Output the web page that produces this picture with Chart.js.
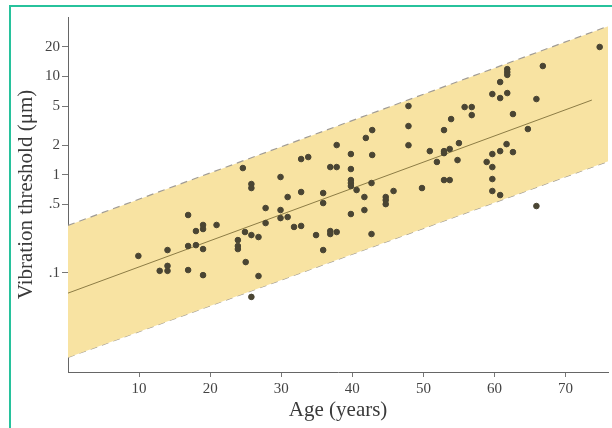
<!DOCTYPE html>
<html>
<head>
<meta charset="utf-8">
<script src="https://cdn.jsdelivr.net/npm/chart.js@4.4.1/dist/chart.umd.min.js"></script>
<style>
  html, body { margin: 0; padding: 0; background: #fff; }
  #wrap { position: relative; width: 612px; height: 428px; overflow: hidden; }
  #frame { position: absolute; left: 9px; top: 5px; width: 620px; height: 440px;
           border: 2px solid #27c29c; pointer-events: none; }
</style>
</head>
<body>
<div id="wrap">
  <canvas id="vibChart" width="612" height="428"></canvas>
  <div id="frame"></div>
</div>
<script>
// measured subjects: age (years) and vibration threshold (µm)
const ages = [
  9.9, 12.9, 14.0, 14.0, 14.0, 16.9, 16.9, 16.9, 18.0, 18.0,
  19.0, 19.0, 19.0, 19.0, 20.9, 23.9, 23.9, 23.9, 24.6, 24.9,
  25.0, 25.8, 25.8, 25.8, 25.8, 26.8, 26.8, 27.8, 27.8, 29.9,
  29.9, 29.9, 30.9, 30.9, 31.8, 32.8, 32.8, 32.8, 33.8, 34.9,
  35.9, 35.9, 35.9, 36.9, 37.8, 36.9, 36.9, 37.8, 37.8, 39.8,
  39.8, 39.8, 39.8, 39.8, 40.6, 39.8, 41.9, 41.7, 41.7, 42.8,
  42.8, 42.7, 42.7, 44.7, 44.7, 44.7, 45.8, 47.9, 47.9, 47.9,
  49.8, 50.9, 51.9, 52.9, 52.9, 52.9, 53.7, 53.9, 55.0, 54.8,
  52.9, 53.7, 55.8, 56.8, 56.8, 58.9, 59.7, 59.7, 59.7, 59.7,
  59.7, 60.8, 60.8, 60.8, 60.8, 61.8, 61.8, 61.8, 61.8, 61.7,
  62.6, 62.6, 64.7, 65.9, 65.9, 66.8, 74.8
];
const thresholds = [
  0.149, 0.105, 0.171, 0.118, 0.105, 0.389, 0.188, 0.107, 0.267, 0.192,
  0.308, 0.280, 0.175, 0.095, 0.308, 0.216, 0.188, 0.175, 1.17, 0.261,
  0.129, 0.804, 0.732, 0.243, 0.057, 0.232, 0.093, 0.458, 0.322, 0.948,
  0.437, 0.362, 0.593, 0.371, 0.294, 0.667, 0.301, 1.445, 1.514, 0.243,
  0.651, 0.515, 0.171, 1.197, 1.197, 0.267, 0.249, 0.261, 2.006, 1.625,
  1.143, 0.883, 0.823, 0.767, 0.699, 0.398, 2.37, 0.593, 0.437, 2.85,
  1.59, 0.823, 0.249, 0.593, 0.552, 0.502, 0.683, 5.01, 3.13, 2.00,
  0.732, 1.74, 1.35, 2.85, 1.74, 1.66, 1.83, 3.69, 2.10, 1.41,
  0.883, 0.883, 4.89, 4.89, 4.05, 1.35, 6.63, 1.625, 1.197, 0.904,
  0.683, 8.79, 6.04, 1.74, 0.621, 11.9, 11.1, 10.4, 6.79, 2.05,
  4.15, 1.70, 2.92, 5.90, 0.480, 12.8, 20.0
];

// regression line and normal range band (ends only, straight on log axis)
const fitAges = [0, 73.7];
const fitValues = [0.0623, 5.76];
const bandAges = [0, 76];
const bandUpper = [0.305, 32.6];
const bandLower = [0.0138, 1.37];

const xTicks = [10, 20, 30, 40, 50, 60, 70];
const yTicks = [0.1, 0.5, 1, 2, 5, 10, 20];
const yTickLabels = ['.1', '.5', '1', '2', '5', '10', '20'];

const toPoints = (xs, ys) => xs.map((x, i) => ({ x: x, y: ys[i] }));

const serif = "'Liberation Serif', 'Times New Roman', serif";

new Chart(document.getElementById('vibChart'), {
    type: 'scatter',
    data: {
        datasets: [
            {
                label: 'Subjects',
                data: toPoints(ages, thresholds),
                backgroundColor: '#4a4533',
                borderColor: '#4a4533',
                pointRadius: 2.8,
                pointHoverRadius: 2.8
            },
            {
                type: 'line',
                label: 'Regression',
                data: toPoints(fitAges, fitValues),
                showLine: true,
                borderColor: '#8c7c45',
                borderWidth: 1,
                pointRadius: 0,
                fill: false
            },
            {
                type: 'line',
                label: 'Upper limit',
                data: toPoints(bandAges, bandUpper),
                showLine: true,
                borderColor: '#a19c94',
                borderWidth: 1.2,
                borderDash: [7, 5],
                pointRadius: 0,
                backgroundColor: '#f8e3a2',
                fill: '+1'
            },
            {
                type: 'line',
                label: 'Lower limit',
                data: toPoints(bandAges, bandLower),
                showLine: true,
                borderColor: '#a19c94',
                borderWidth: 1.2,
                borderDash: [7, 5],
                pointRadius: 0,
                fill: false
            }
        ]
    },
    options: {
        responsive: false,
        animation: false,
        layout: { padding: { top: 17, right: 0, bottom: 0, left: 0 } },
        plugins: {
            legend: { display: false },
            tooltip: { enabled: false }
        },
        scales: {
            x: {
                type: 'linear',
                min: 0,
                max: 76,
                afterBuildTicks: (axis) => { axis.ticks = xTicks.map(v => ({ value: v })); },
                afterFit: (scale) => { scale.height = 56; },
                ticks: {
                    color: '#444',
                    font: { family: serif, size: 15 },
                    padding: 3
                },
                grid: { drawOnChartArea: false, drawTicks: true, tickLength: 5, color: '#777' },
                border: { display: true, color: '#666', width: 1 },
                title: {
                    display: true,
                    text: 'Age (years)',
                    color: '#3a3a3a',
                    font: { family: serif, size: 21 },
                    padding: { top: 0, bottom: 5 }
                }
            },
            y: {
                type: 'logarithmic',
                min: 0.0098,
                max: 40.4,
                afterBuildTicks: (axis) => { axis.ticks = yTicks.map(v => ({ value: v })); },
                afterFit: (scale) => { scale.width = 68; },
                ticks: {
                    color: '#444',
                    font: { family: serif, size: 15 },
                    padding: 2,
                    callback: (value) => {
                        const i = yTicks.indexOf(value);
                        return i >= 0 ? yTickLabels[i] : '';
                    }
                },
                grid: { drawOnChartArea: false, drawTicks: true, tickLength: 6, color: '#777' },
                border: { display: true, color: '#666', width: 1 },
                title: {
                    display: true,
                    text: 'Vibration threshold (μm)',
                    color: '#3a3a3a',
                    font: { family: serif, size: 21 },
                    padding: { top: 14, bottom: 0 }
                }
            }
        }
    }
});
</script>
</body>
</html>
